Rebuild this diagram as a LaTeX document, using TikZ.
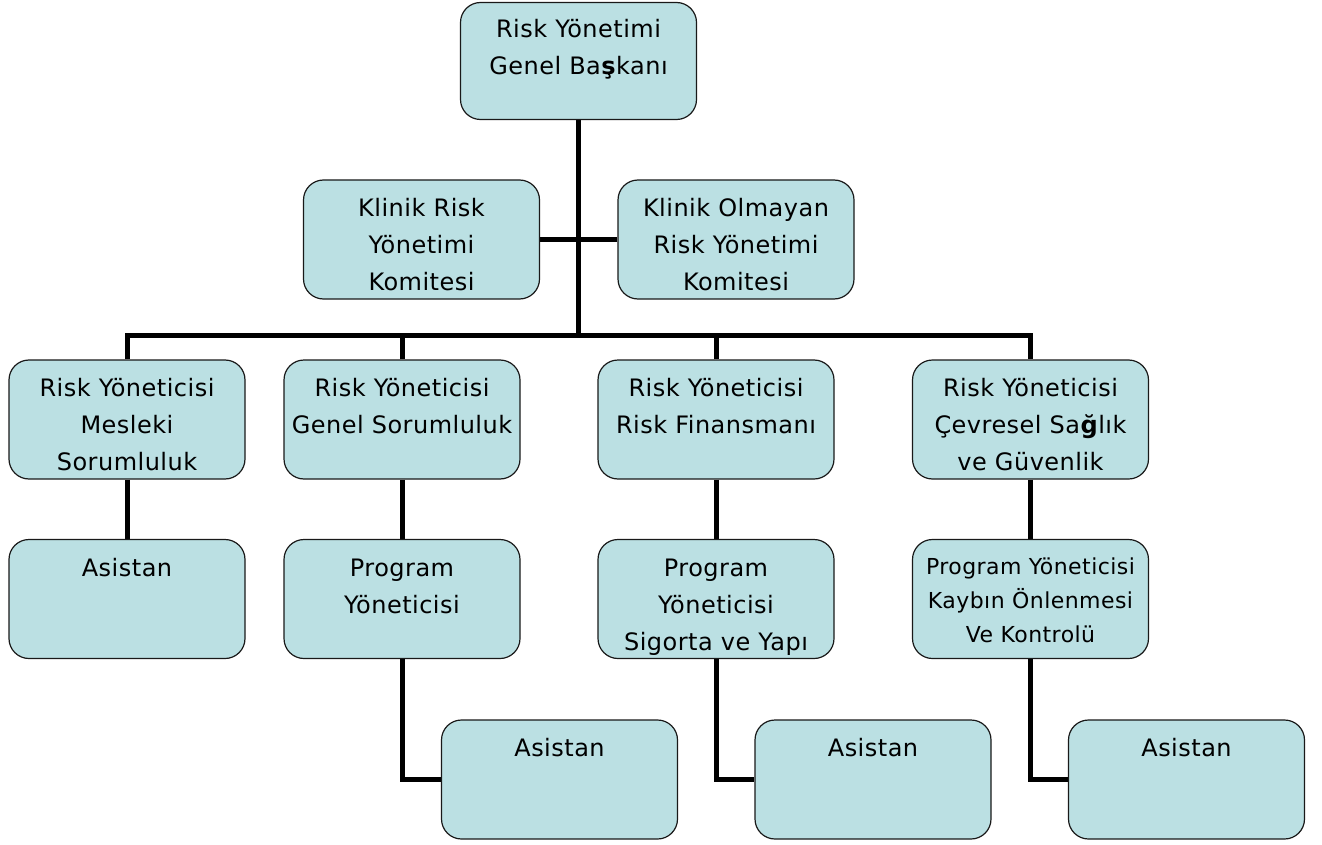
\documentclass[tikz,border=0pt]{standalone}
\usepackage{fontspec}
\setmainfont[LetterSpace=2]{DejaVu Sans}
\pgfdeclarelayer{background}
\pgfsetlayers{background,main}
\definecolor{boxfill}{RGB}{187,224,227}
\definecolor{boxline}{RGB}{25,25,25}
% top-aligned, centred lines inside a box
\newcommand{\boxlines}[1]{\parbox[t][104pt][t]{232pt}{\centering\fontsize{24}{37}\selectfont\rule{0pt}{29pt}#1}}
\newcommand{\smallboxlines}[1]{\parbox[t][104pt][t]{232pt}{\centering\fontsize{22}{34}\selectfont\rule{0pt}{27pt}#1}}
\tikzset{
  orgbox/.style={draw=boxline, line width=1.2pt, fill=boxfill, rounded corners=20pt,
    minimum width=236pt, minimum height=119pt, inner sep=0pt},
  conn/.style={draw=black, line width=5pt}
}
\begin{document}
\begin{tikzpicture}[x=1pt, y=-1pt]
\useasboundingbox (0,0) rectangle (1322,845);

% head and committees
\node[orgbox, minimum height=117pt] (top) at (578.5,61) {\boxlines{Risk Yönetimi\\Genel Ba\textbf{ş}kanı}};
\node[orgbox] (kr) at (421.5,239.5) {\boxlines{Klinik Risk\\Yönetimi\\Komitesi}};
\node[orgbox] (ko) at (736,239.5) {\boxlines{Klinik Olmayan\\Risk Yönetimi\\Komitesi}};

% risk managers
\node[orgbox] (r2a) at (127,419.5) {\boxlines{Risk Yöneticisi\\Mesleki\\Sorumluluk}};
\node[orgbox] (r2b) at (402,419.5) {\boxlines{Risk Yöneticisi\\Genel Sorumluluk}};
\node[orgbox] (r2c) at (716,419.5) {\boxlines{Risk Yöneticisi\\Risk Finansmanı}};
\node[orgbox] (r2d) at (1030.5,419.5) {\boxlines{Risk Yöneticisi\\Çevresel Sa\textbf{ğ}lık\\ve Güvenlik}};

% third level
\node[orgbox] (r3a) at (127,599) {\boxlines{Asistan}};
\node[orgbox] (r3b) at (402,599) {\boxlines{Program\\Yöneticisi}};
\node[orgbox] (r3c) at (716,599) {\boxlines{Program\\Yöneticisi\\Sigorta ve Yapı}};
\node[orgbox] (r3d) at (1030.5,599) {\smallboxlines{Program Yöneticisi\\Kaybın Önlenmesi\\Ve Kontrolü}};

% assistants
\node[orgbox] (r4b) at (559.5,779.5) {\boxlines{Asistan}};
\node[orgbox] (r4c) at (873,779.5) {\boxlines{Asistan}};
\node[orgbox] (r4d) at (1186.5,779.5) {\boxlines{Asistan}};

\coordinate (bus) at (578.5,335);

\begin{pgfonlayer}{background}
  % trunk and committee branches
  \draw[conn] (top.south) -- (top.south |- bus);
  \draw[conn] (kr.east) -- (kr.east -| top.south);
  \draw[conn] (ko.west) -- (ko.west -| top.south);
  % horizontal bus with drops
  \draw[conn] (r2a.north) -- (r2a.north |- bus) -- (r2d.north |- bus) -- (r2d.north);
  \draw[conn] (r2b.north) -- (r2b.north |- bus);
  \draw[conn] (r2c.north) -- (r2c.north |- bus);
  % second to third level
  \draw[conn] (r2a.south) -- (r3a.north);
  \draw[conn] (r2b.south) -- (r3b.north);
  \draw[conn] (r2c.south) -- (r3c.north);
  \draw[conn] (r2d.south) -- (r3d.north);
  % elbows to assistants
  \draw[conn] (r3b.south) |- (r4b.west);
  \draw[conn] (r3c.south) |- (r4c.west);
  \draw[conn] (r3d.south) |- (r4d.west);
\end{pgfonlayer}
\end{tikzpicture}
\end{document}
